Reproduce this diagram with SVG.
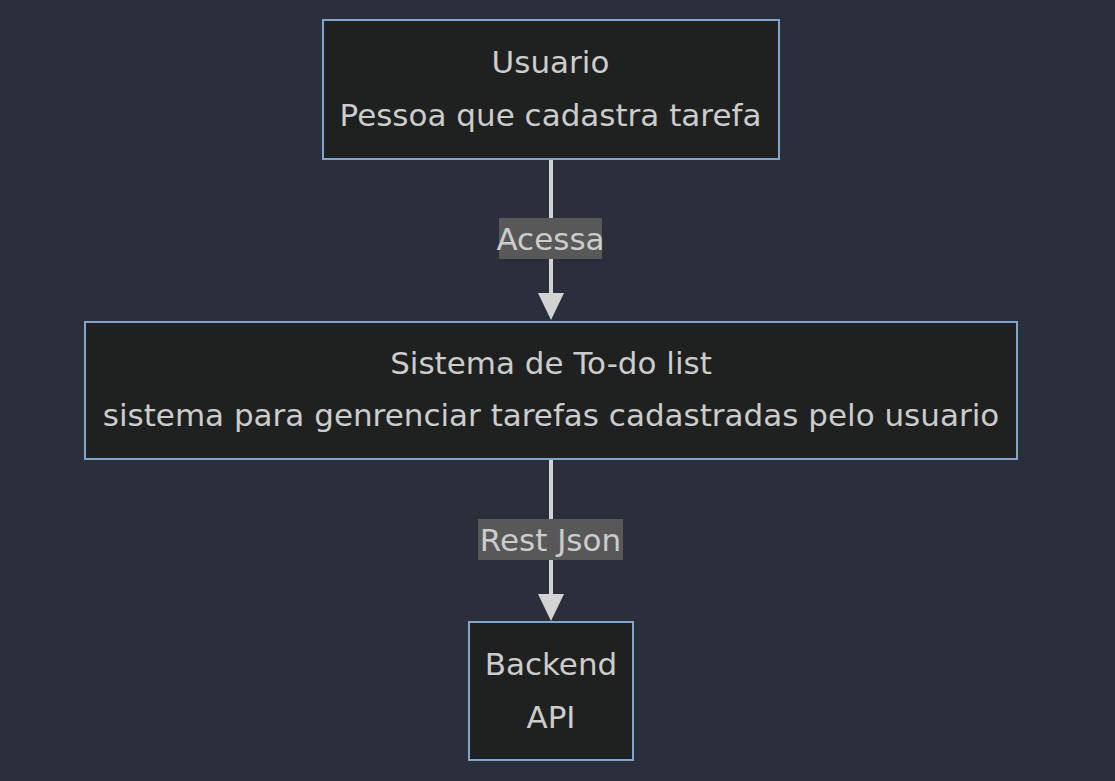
<svg xmlns="http://www.w3.org/2000/svg" width="1115" height="781" viewBox="0 0 1115 781">
<defs>
<style>
.node rect{fill:#1f2020;stroke:#81a5cc;stroke-width:2}
.nt{font-family:"DejaVu Sans",Verdana,sans-serif;font-size:31px;fill:#cccccc;text-anchor:middle}
.edge{stroke:#d3d3d3;stroke-width:4;fill:none}
.lblbg{fill:#585858}
</style>
<marker id="arr" markerUnits="userSpaceOnUse" markerWidth="28" markerHeight="28" viewBox="0 0 28 28" refX="14" refY="26" orient="auto-start-reverse">
<path d="M1,0 L27,0 L14,26 Z" fill="#d3d3d3"/>
</marker>
</defs>
<rect width="1115" height="781" fill="#2a2f3b"/>
<g id="connectors">
<g id="e1">
<line class="edge" x1="551" y1="160" x2="551" y2="294"/>
<path d="M538,293 L564,293 L551,320 Z" fill="#d3d3d3"/>
<rect class="lblbg" x="499" y="218" width="103" height="41"/>
<text class="nt" x="550.5" y="250">Acessa</text>
</g>
<g id="e2">
<line class="edge" x1="551" y1="460" x2="551" y2="595"/>
<path d="M538,594 L564,594 L551,621 Z" fill="#d3d3d3"/>
<rect class="lblbg" x="478" y="519" width="145" height="41"/>
<text class="nt" x="550.5" y="551">Rest Json</text>
</g>
</g>
<g id="usuario" class="node">
<rect x="323" y="20" width="456" height="139"/>
<text class="nt" x="550.5" y="73">Usuario</text>
<text class="nt" x="550.5" y="126">Pessoa que cadastra tarefa</text>
</g>
<g id="sistema" class="node">
<rect x="85" y="322" width="932" height="137"/>
<text class="nt" x="551" y="374">Sistema de To-do list</text>
<text class="nt" x="551" y="426">sistema para genrenciar tarefas cadastradas pelo usuario</text>
</g>
<g id="backend" class="node">
<rect x="469" y="622" width="164" height="138"/>
<text class="nt" x="551" y="675">Backend</text>
<text class="nt" x="551" y="728">API</text>
</g>
</svg>
